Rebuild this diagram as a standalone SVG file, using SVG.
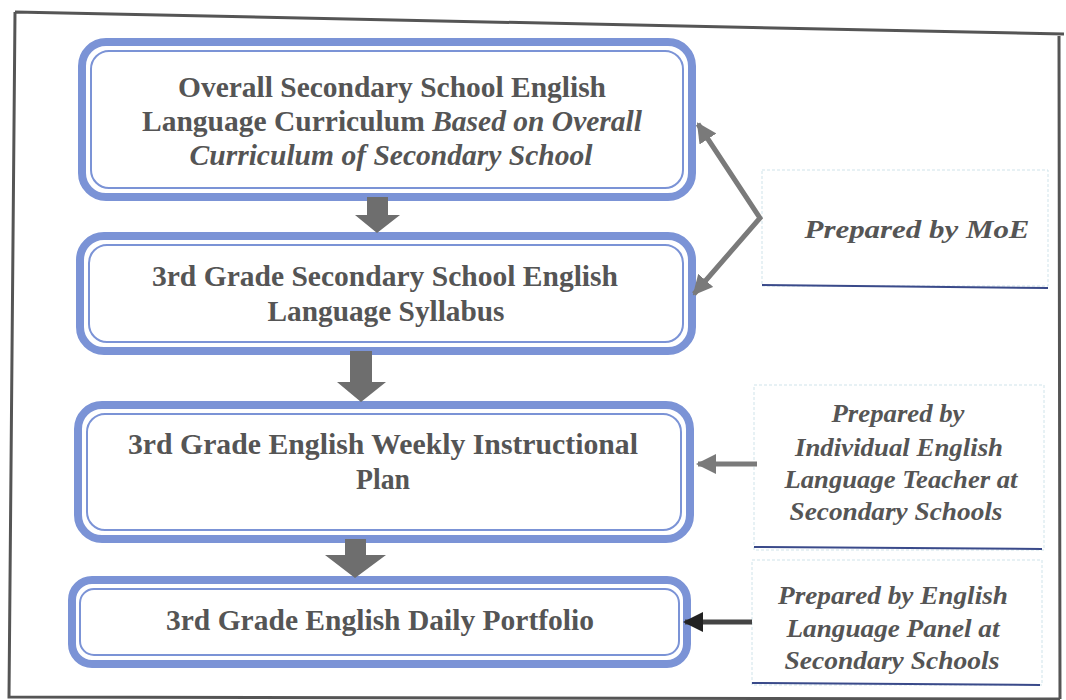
<svg xmlns="http://www.w3.org/2000/svg" width="1066" height="700" viewBox="0 0 1066 700">
<defs>
<style>
.outer{fill:#fff;stroke:#7b93d6;stroke-width:8}
.inner{fill:none;stroke:#7b93d6;stroke-width:2}
.t{font-family:"Liberation Serif","Times New Roman",Times,serif;font-weight:bold;font-size:29px;fill:#555;text-anchor:middle}
.i{font-style:italic}
.lab{font-family:"Liberation Serif","Times New Roman",Times,serif;font-weight:bold;font-style:italic;font-size:26px;fill:#555;text-anchor:middle}
.lbox{fill:none;stroke:#cfe3ea;stroke-width:1;stroke-dasharray:3 2}
.lline{stroke:#3a4a8a;stroke-width:2}
.conn{stroke:#7a7a7a;stroke-width:5;fill:none}
.block{fill:#6e6e6e}
</style>
<marker id="ah" viewBox="0 0 10 10" refX="9" refY="5" markerWidth="4" markerHeight="4" orient="auto-start-reverse" markerUnits="strokeWidth">
<path d="M0,0 L10,5 L0,10 z" fill="#7a7a7a"/>
</marker>
<marker id="ahd" viewBox="0 0 10 10" refX="9" refY="5" markerWidth="4" markerHeight="4" orient="auto" markerUnits="strokeWidth">
<path d="M0,0 L10,5 L0,10 z" fill="#222"/>
</marker>
</defs>
<rect width="1066" height="700" fill="#fff"/>
<path d="M15,12 L1064,34 M15,12 L9,697 L1060,699 M1059,36 L1060,699" fill="none" stroke="#555" stroke-width="3"/>

<g id="node1">
<rect class="outer" x="82" y="42" width="610" height="155" rx="24"/>
<rect class="inner" x="91" y="51" width="592" height="137" rx="18"/>
<text class="t" x="392" y="97" textLength="428" lengthAdjust="spacingAndGlyphs">Overall Secondary School English</text>
<text class="t" x="392" y="131" textLength="500" lengthAdjust="spacingAndGlyphs">Language Curriculum <tspan class="i">Based on Overall</tspan></text>
<text class="t i" x="391" y="165" textLength="403" lengthAdjust="spacingAndGlyphs">Curriculum of Secondary School</text>
</g>
<g id="node2">
<rect class="outer" x="80" y="236" width="612" height="115" rx="24"/>
<rect class="inner" x="89" y="245" width="594" height="97" rx="18"/>
<text class="t" x="385" y="286" textLength="466" lengthAdjust="spacingAndGlyphs">3rd Grade Secondary School English</text>
<text class="t" x="386" y="321" textLength="237" lengthAdjust="spacingAndGlyphs">Language Syllabus</text>
</g>
<g id="node3">
<rect class="outer" x="78" y="405" width="612" height="134" rx="24"/>
<rect class="inner" x="87" y="414" width="594" height="116" rx="18"/>
<text class="t" x="383" y="454" textLength="510" lengthAdjust="spacingAndGlyphs">3rd Grade English Weekly Instructional</text>
<text class="t" x="383" y="489" textLength="54" lengthAdjust="spacingAndGlyphs">Plan</text>
</g>
<g id="node4">
<rect class="outer" x="72" y="580" width="615" height="84" rx="20"/>
<rect class="inner" x="80" y="589" width="599" height="66" rx="14"/>
<text class="t" x="380" y="630" textLength="428" lengthAdjust="spacingAndGlyphs">3rd Grade English Daily Portfolio</text>
</g>

<g id="label1">
<rect class="lbox" x="762" y="170" width="286" height="116"/>
<line class="lline" x1="762" y1="285" x2="1048" y2="288"/>
<text class="lab" x="917" y="238" textLength="225" lengthAdjust="spacingAndGlyphs">Prepared by MoE</text>
</g>
<g id="label2">
<rect class="lbox" x="754" y="385" width="290" height="165"/>
<line class="lline" x1="754" y1="547" x2="1042" y2="549"/>
<text class="lab" x="898" y="422" textLength="133" lengthAdjust="spacingAndGlyphs">Prepared by</text>
<text class="lab" x="899" y="456" textLength="208" lengthAdjust="spacingAndGlyphs">Individual English</text>
<text class="lab" x="901" y="488" textLength="233" lengthAdjust="spacingAndGlyphs">Language Teacher at</text>
<text class="lab" x="896" y="520" textLength="213" lengthAdjust="spacingAndGlyphs">Secondary Schools</text>
</g>
<g id="label3">
<rect class="lbox" x="752" y="560" width="290" height="125"/>
<line class="lline" x1="752" y1="683" x2="1040" y2="685"/>
<text class="lab" x="893" y="604" textLength="230" lengthAdjust="spacingAndGlyphs">Prepared by English</text>
<text class="lab" x="893" y="637" textLength="213" lengthAdjust="spacingAndGlyphs">Language Panel at</text>
<text class="lab" x="892" y="669" textLength="215" lengthAdjust="spacingAndGlyphs">Secondary Schools</text>
</g>

<g id="connectors">
<path class="block" d="M367,197 H388 V215 H400 L377,233 L355,215 H367 Z"/>
<path class="block" d="M350,351 H372 V382 H386 L361,402 L337,382 H350 Z"/>
<path class="block" d="M345,539 H366 V555 H386 L355,578 L325,555 H345 Z"/>
<polyline class="conn" points="698,124 760,218 694,294" marker-start="url(#ah)" marker-end="url(#ah)"/>
<line class="conn" x1="757" y1="464" x2="698" y2="464" marker-end="url(#ah)"/>
<line x1="752" y1="622" x2="685" y2="622" stroke="#444" stroke-width="5" marker-end="url(#ahd)"/>
</g>
</svg>
